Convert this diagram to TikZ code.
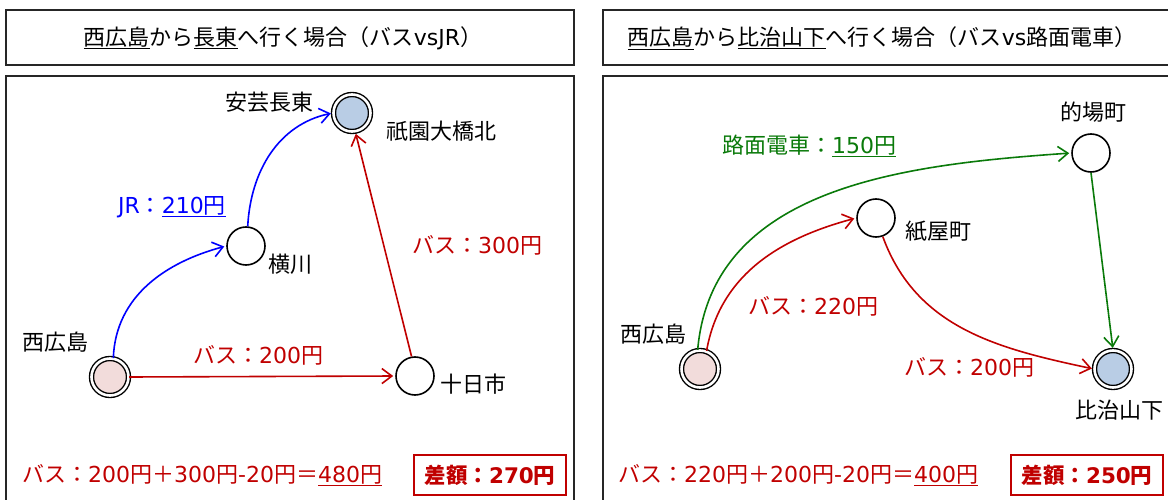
\documentclass[tikz,border=0pt]{standalone}
\usepackage{fontspec}
\setmainfont{Noto Sans CJK JP}
\newfontfamily\lat{DejaVu Sans}
\newcommand\dg[1]{{\lat #1}}
\usetikzlibrary{arrows.meta}
\definecolor{cred}{HTML}{C00000}
\definecolor{cblue}{HTML}{0000FF}
\definecolor{cgreen}{HTML}{0A7A0A}
\definecolor{cpink}{HTML}{F2DCDB}
\definecolor{cltblue}{HTML}{B9CDE5}
\tikzset{
  txt/.style={inner sep=0pt, font=\fontsize{22}{25}\selectfont},
  frame/.style={draw=black!85, line width=1.4pt},
  stn/.style={circle, draw=black, line width=1.6pt, minimum size=38pt, inner sep=0pt, fill=white},
  endstn/.style={circle, draw=black, line width=1.4pt, double=white, double distance=2.6pt, minimum size=37pt, inner sep=0pt},
  conn/.style={line width=1.6pt, -{Straight Barb[length=10pt,width=15pt,line width=1.6pt]}, shorten >=2pt},
  diffbox/.style={draw=cred, line width=2.6pt, inner sep=0pt, minimum width=152pt, minimum height=40pt, text=cred, font=\fontsize{21.5}{24}\selectfont\bfseries}
}
\begin{document}
\begin{tikzpicture}[x=1pt,y=-1pt]
\useasboundingbox (0,0) rectangle (1168,500);
% frames
\draw[frame] (6,10) rectangle (574,65);
\draw[frame] (1170,10) -- (603,10) -- (603,65) -- (1170,65);
\draw[frame] (6,502) -- (6,76) -- (574,76) -- (574,502);
\draw[frame] (1170,76) -- (603,76) -- (603,502);
% titles
\node[txt] (t1) at (283,38) {\underline{西広島}から\underline{長東}へ行く場合（バス\dg{vsJR}）};
\node[txt] (t2) at (882,38) {\underline{西広島}から\underline{比治山下}へ行く場合（バス\dg{vs}路面電車）};

% ---------- left diagram ----------
\node[endstn, fill=cpink] (nw) at (110,377) {};
\node[stn] (tk) at (415,376) {};
\node[stn] (yk) at (246,246) {};
\node[endstn, fill=cltblue] (ng) at (352,113) {};

\node[txt, anchor=west] (lnw) at (22,342) {西広島};
\node[txt, anchor=west] (ltk) at (440,384) {十日市};
\node[txt, anchor=west] (lyk) at (268,264) {横川};
\node[txt, anchor=west] (lak) at (225,102) {安芸長東};
\node[txt, anchor=west] (lgn) at (386,131) {祇園大橋北};

\draw[conn, cblue] (nw.80) to[out=88, in=195] (yk.west);
\draw[conn, cblue] (yk.85) to[out=87, in=192] (ng.west);
\draw[conn, cred] (nw.east) -- (tk.west);
\draw[conn, cred] (tk.100) -- (ng.-80);

\node[txt, anchor=west, text=cblue] (ljr) at (118,207) {\dg{JR}：\underline{\dg{210}円}};
\node[txt, anchor=west, text=cred] (lb1) at (193,355) {バス：\dg{200}円};
\node[txt, anchor=west, text=cred] (lb2) at (412,245) {バス：\dg{300}円};
\node[txt, anchor=west, text=cred] (lf1) at (22,475) {バス：\dg{200}円＋\dg{300}円\dg{-20}円＝\underline{\dg{480}円}};
\node[diffbox] (d1) at (490,475) {差額：\dg{\bfseries 270}円};

% ---------- right diagram ----------
\node[endstn, fill=cpink] (nw2) at (700,369) {};
\node[stn] (km) at (876,218) {};
\node[stn] (mb) at (1091,153) {};
\node[endstn, fill=cltblue] (hj) at (1113,369) {};

\node[txt, anchor=west] (lnw2) at (620,334) {西広島};
\node[txt, anchor=west] (lkm) at (905,231) {紙屋町};
\node[txt, anchor=west] (lmb) at (1060,112) {的場町};
\node[txt, anchor=west] (lhj) at (1075,410) {比治山下};

\draw[conn, cgreen] (nw2.97) to[out=85, in=184] (mb.west);
\draw[conn, cgreen] (mb.south) -- (hj.north);
\draw[conn, cred] (nw2.70) to[out=80, in=195] (km.west);
\draw[conn, cred] (km.-70) to[out=-70, in=168] (hj.west);

\node[txt, anchor=west, text=cgreen] (lgr) at (722,146) {路面電車：\underline{\dg{150}円}};
\node[txt, anchor=west, text=cred] (lb3) at (748,306) {バス：\dg{220}円};
\node[txt, anchor=west, text=cred] (lb4) at (904,367) {バス：\dg{200}円};
\node[txt, anchor=west, text=cred] (lf2) at (618,475) {バス：\dg{220}円＋\dg{200}円\dg{-20}円＝\underline{\dg{400}円}};
\node[diffbox] (d2) at (1087,475) {差額：\dg{\bfseries 250}円};
\end{tikzpicture}
\end{document}
